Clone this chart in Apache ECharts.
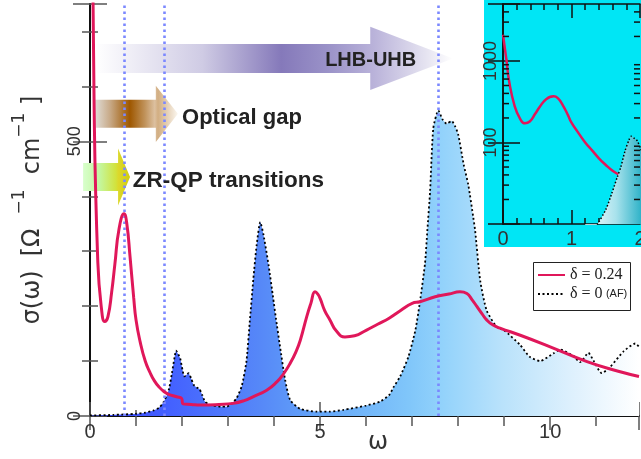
<!DOCTYPE html>
<html><head><meta charset="utf-8">
<script src="https://cdn.jsdelivr.net/npm/echarts@6/dist/echarts.min.js"></script>
<style>html,body{margin:0;padding:0;background:#fff}#c{width:641px;height:459px}</style>
</head><body><div id="c"></div>
<script>
// ---------------- data ----------------
const seriesNames = ['δ = 0.24', 'δ = 0 (AF)'];
// σ(ω) for δ = 0.24  [ω, σ]
const delta024 = [
 [0,2100],[0.05,1030],[0.09,560],[0.17,280],[0.25,195],[0.32,172],[0.39,181],[0.47,225],[0.54,276],[0.63,340],
 [0.74,368],[0.8,350],[0.87,290],[0.95,215],[1.0,175],[1.09,135],[1.2,100],[1.3,80],[1.4,64],[1.5,53],[1.6,45],
 [1.7,40],[1.88,35],[1.99,32],[2.02,22],[2.2,21],[2.39,20],[2.8,21],[3.11,23],[3.35,28],[3.54,35],[3.84,47],
 [4.06,62],[4.2,76],[4.35,96],[4.47,116],[4.57,138],[4.71,181],[4.8,205],[4.89,226],[4.95,222],[5.0,214],
 [5.1,192],[5.22,174],[5.35,155],[5.54,144],[5.75,146],[6.0,156],[6.25,167],[6.5,178],[6.75,192],[7.0,205],
 [7.17,208],[7.5,217],[7.8,222],[8.04,226],[8.19,223],[8.3,212],[8.41,199],[8.52,186],[8.62,175],[8.75,166],
 [8.91,160],[9.35,147],[10.0,126],[10.8,99],[11.5,81],[11.93,72]
];
// σ(ω) for δ = 0 (AF)  [ω, σ]
const deltaZeroAF = [
 [0,1],[0.5,2],[1.0,4],[1.2,6],[1.38,10],[1.5,15],[1.59,24],[1.67,38],[1.72,50],[1.78,78],[1.84,108],[1.87,119],
 [1.92,112],[1.96,105],[2.01,84],[2.05,72],[2.1,75],[2.14,78],[2.2,68],[2.25,57],[2.32,52],[2.38,49],[2.44,38],
 [2.5,26],[2.6,21],[2.68,19],[2.85,17],[2.97,17],[3.1,24],[3.19,33],[3.3,55],[3.4,100],[3.47,170],[3.55,250],
 [3.62,310],[3.7,353],[3.77,330],[3.88,275],[3.98,215],[4.04,178],[4.13,126],[4.24,66],[4.35,29],[4.57,13],
 [4.93,8],[5.2,8],[5.5,11],[6.0,19],[6.3,26],[6.5,38],[6.6,53],[6.74,72],[6.92,108],[7.07,156],[7.17,208],
 [7.28,278],[7.33,337],[7.39,409],[7.46,524],[7.57,556],[7.66,540],[7.75,532],[7.86,537],[7.93,528],[8.0,513],
 [8.12,458],[8.22,421],[8.33,361],[8.37,337],[8.48,246],[8.62,192],[8.84,162],[9.0,156],[9.35,129],[9.55,108],
 [9.78,100],[10.07,114],[10.22,121],[10.51,109],[10.65,98],[10.83,115],[10.94,101],[11.12,78],[11.3,89],
 [11.6,118],[11.85,132],[11.93,126]
];
// vertical guide lines (ω)
const transitionLines = [0.75, 1.62, 7.57];
// inset log-axis minor tick values and labelled ticks
const insetLogMinorTicks = [20,30,40,50,60,70,80,90,200,300,400,500,600,700,800,900,2000,3000,4000];
const insetLogLabels = [100, 1000];
const annotationTexts = ['LHB-UHB', 'Optical gap', 'ZR-QP transitions'];

// ---------------- styles ----------------
const RED = '#e0175a';
const AX = '#111';
const TK = '#555';
const LBL = {fontFamily:'Liberation Sans', color:'#333'};
const X_MAX = 11.93;
const LEGEND_BOX = {x:533, y:262, w:97, h:48};

const insetRed = delta024.filter(d => d[0] <= 2.1);
const insetAF = deltaZeroAF.filter(d => d[0] >= 1.2 && d[0] <= 2.1);

function baseAxis(extra) {
  return Object.assign({
    type:'value', splitLine:{show:false}, nameMoveOverlap:false,
    axisLine:{show:true, lineStyle:{color:AX, width:2}},
  }, extra);
}

const option = {
  animation:false,
  backgroundColor:'#fff',
  grid:[
    {left:90, top:4, width:549, height:412, outerBoundsMode:'none', containLabel:false},
    {left:503, top:4, width:137, height:220, outerBoundsMode:'none', containLabel:false}
  ],
  xAxis:[
    baseAxis({gridIndex:0, min:0, max:X_MAX, interval:5, position:'bottom', z:0,
      axisTick:{show:true, inside:true, length:14, lineStyle:{color:TK, width:1.5}},
      minorTick:{show:true, splitNumber:5, length:6, lineStyle:{color:TK, width:1.5}},
      axisLabel:Object.assign({showMaxLabel:false, fontSize:20, margin:6}, LBL),
      name:'ω', nameLocation:'middle', nameGap:15,
      nameTextStyle:{fontFamily:'DejaVu Sans', fontSize:24, color:'#333', padding:[0,0,0,27]}}),
    baseAxis({gridIndex:1, min:0, max:2, interval:1, position:'bottom', z:10,
      axisLine:{show:true, lineStyle:{color:AX, width:1.5}},
      axisTick:{show:true, inside:true, length:14, lineStyle:{color:AX, width:1.5}},
      minorTick:{show:true, splitNumber:5, length:6, lineStyle:{color:AX, width:1.5}},
      axisLabel:Object.assign({fontSize:20, margin:5}, LBL)}),
    baseAxis({gridIndex:0, min:0, max:X_MAX, interval:5, position:'top', z:0,
      axisTick:{show:true, inside:true, length:14, lineStyle:{color:TK, width:1.5}},
      minorTick:{show:true, splitNumber:5, length:10, lineStyle:{color:TK, width:1.5}},
      axisLabel:{show:false}}),
    baseAxis({gridIndex:1, min:0, max:2, interval:1, position:'top', z:10,
      axisLine:{show:true, lineStyle:{color:AX, width:1.5}},
      axisTick:{show:true, inside:true, length:14, lineStyle:{color:AX, width:1.5}},
      minorTick:{show:true, splitNumber:5, length:6, lineStyle:{color:AX, width:1.5}},
      axisLabel:{show:false}})
  ],
  yAxis:[
    baseAxis({gridIndex:0, min:0, max:750, interval:500, position:'left', z:0,
      axisTick:{show:true, inside:true, length:17, lineStyle:{color:TK, width:1.5}},
      minorTick:{show:true, splitNumber:5, length:8, lineStyle:{color:TK, width:1.5}},
      axisLabel:Object.assign({rotate:90, showMaxLabel:false, fontSize:18, margin:6}, LBL),
      name:'{m|σ(ω)}{g| }{m|[Ω}{g| }{s|−1}{m|  cm}{s|−1}{m| ]}',
      nameLocation:'middle', nameRotate:90, nameGap:35,
      nameTextStyle:{rich:{
        m:{fontFamily:'DejaVu Sans', fontSize:24, color:'#333', lineHeight:44, verticalAlign:'middle'},
        g:{fontFamily:'DejaVu Sans', fontSize:24, lineHeight:44, width:14},
        s:{fontFamily:'DejaVu Sans', fontSize:17, color:'#333', lineHeight:12, verticalAlign:'top'}
      }}}),
    baseAxis({gridIndex:1, type:'log', logBase:10, min:10, max:5000, position:'left', z:10,
      axisLine:{show:true, lineStyle:{color:AX, width:1.5}},
      axisTick:{show:true, inside:true, length:17, lineStyle:{color:AX, width:1.5}},
      axisLabel:Object.assign({rotate:90, fontSize:18, margin:3,
        formatter: v => insetLogLabels.indexOf(Math.round(v)) >= 0 ? String(Math.round(v)) : ''}, LBL)}),
    baseAxis({gridIndex:0, min:0, max:750, interval:500, position:'right', z:0,
      axisTick:{show:true, inside:true, length:17, lineStyle:{color:TK, width:1.5}},
      minorTick:{show:true, splitNumber:5, length:8, lineStyle:{color:TK, width:1.5}},
      axisLabel:{show:false}}),
    baseAxis({gridIndex:1, type:'log', logBase:10, min:10, max:5000, position:'right', z:10,
      axisLine:{show:true, lineStyle:{color:AX, width:1.5}},
      axisTick:{show:true, inside:true, length:15, lineStyle:{color:AX, width:1.5}},
      axisLabel:{show:false}})
  ],
  legend:{
    data:seriesNames, orient:'vertical', left:LEGEND_BOX.x, top:LEGEND_BOX.y,
    itemWidth:27, itemHeight:12, itemGap:3, padding:[5,3,4,4],
    backgroundColor:'transparent', borderWidth:0,
    selectedMode:false, z:20,
    itemStyle:{opacity:0},
    formatter: n => n === seriesNames[0] ? '{s|δ = 0.24}' : '{s|δ = 0} {a|(AF)}',
    textStyle:{rich:{
      s:{fontFamily:'Liberation Serif', fontSize:16, color:'#222'},
      a:{fontFamily:'Liberation Sans', fontSize:11, color:'#222'}
    }}
  },
  series:[
    {type:'line', name:'guides', xAxisIndex:0, yAxisIndex:0, data:[], z:3, silent:true,
     markLine:{symbol:'none', silent:true, label:{show:false},
       lineStyle:{color:'#7b88ff', width:2.6, type:[2.6,3.4]},
       data: transitionLines.map(v => ({xAxis:v}))}},
    {type:'line', name:seriesNames[1], xAxisIndex:0, yAxisIndex:0, data:deltaZeroAF, z:4,
     symbol:'none', smooth:0.2,
     lineStyle:{color:'#000', width:1.8, type:[2,2.5]},
     itemStyle:{color:'#000'},
     areaStyle:{origin:'start', opacity:1, color:{type:'linear', x:0, y:0, x2:1, y2:0, colorStops:[
       {offset:0, color:'#3a44ff'}, {offset:0.15, color:'#4462ff'}, {offset:0.31, color:'#5688f8'},
       {offset:0.42, color:'#64a6f8'}, {offset:0.58, color:'#80c6fa'}, {offset:0.64, color:'#92d2fb'},
       {offset:0.75, color:'#b9e2fb'}, {offset:0.875, color:'#ddf0fd'}, {offset:1, color:'#ffffff'}]}}},
    {type:'line', name:seriesNames[0], xAxisIndex:0, yAxisIndex:0, data:delta024, z:5,
     symbol:'none', smooth:0.5,
     lineStyle:{color:RED, width:3}, itemStyle:{color:RED}},
    {type:'line', name:'inset δ=0.24', xAxisIndex:1, yAxisIndex:1, data:insetRed, z:11,
     symbol:'none', smooth:0.5,
     lineStyle:{color:RED, width:2.5}},
    {type:'line', name:'inset AF', xAxisIndex:1, yAxisIndex:1, data:insetAF, z:12,
     symbol:'none', smooth:0.25,
     lineStyle:{color:'#000', width:1.5, type:[1.5,2]},
     areaStyle:{origin:'start', opacity:1, color:{type:'linear', x:0, y:0, x2:1, y2:0, colorStops:[
       {offset:0, color:'#ffffff'}, {offset:0.5, color:'#a8e2ec'}, {offset:1, color:'#14a8c0'}]}}},
    {type:'custom', name:'inset minor ticks', xAxisIndex:1, yAxisIndex:1, z:13, silent:true,
     data: insetLogMinorTicks.map(v => [0, v]), encode:{x:0, y:1},
     renderItem:(params, api) => {
       const y = api.coord([0, api.value(1)])[1];
       const cs = params.coordSys;
       const st = {stroke:AX, lineWidth:1.5};
       return {type:'group', children:[
         {type:'line', shape:{x1:cs.x, y1:y, x2:cs.x+6, y2:y}, style:st},
         {type:'line', shape:{x1:cs.x+cs.width, y1:y, x2:cs.x+cs.width-6, y2:y}, style:st}
       ]};
     }}
  ]
};

const chart = echarts.init(document.getElementById('c'));
chart.setOption(option);

// ---------------- annotations (placed in data coordinates) ----------------
const P = (x, y) => chart.convertToPixel({seriesIndex:2}, [x, y]);
const PI = (x, y) => chart.convertToPixel({seriesIndex:3}, [x, y]);
const arrowSpecs = [
  {x0:0.11, x1:6.09, x2:7.89, yc:651, body:26.4, head:57.4, text:annotationTexts[0], tx:5.11, ty:648, fs:20,
   stops:[[0,'#ffffff'],[0.3,'#cfcbe4'],[0.52,'#8579ba'],[0.65,'#9a92c8'],[0.78,'#bab3da'],[0.92,'#e4e2f0'],[1,'#ffffff']]},
  {x0:0.11, x1:1.43, x2:1.91, yc:550, body:25.5, head:51, text:annotationTexts[1], tx:2.0, ty:542, fs:22,
   stops:[[0,'#e0ddd8'],[0.18,'#c8aa88'],[0.42,'#9e5700'],[0.6,'#c0925a'],[0.72,'#dcc0a0'],[0.76,'#d2ae82'],[1,'#fbf7f0']]},
  {x0:-0.15, x1:0.61, x2:0.87, yc:435, body:25.5, head:52, text:annotationTexts[2], tx:0.93, ty:428, fs:22.5,
   stops:[[0,'#d8ffcc'],[0.35,'#c4f7a0'],[0.7,'#d2e23c'],[0.75,'#dcd82c'],[1,'#d0cc10']]}
];
const elements = [];
const iTL = PI(0, 5000), iBR = PI(2, 10);
elements.push({type:'rect', z:5, silent:true,
  shape:{x:iTL[0]-19, y:0, width:641-(iTL[0]-19), height:iBR[1]+23},
  style:{fill:'#00e6f5'}});
elements.push({type:'rect', z:19, silent:true,
  shape:{x:LEGEND_BOX.x+0.5, y:LEGEND_BOX.y+0.5, width:LEGEND_BOX.w, height:LEGEND_BOX.h},
  style:{fill:'#fff', stroke:'#222', lineWidth:1}});
arrowSpecs.forEach(a => {
  const pts = [[a.x0,a.yc+a.body],[a.x1,a.yc+a.body],[a.x1,a.yc+a.head],[a.x2,a.yc],
               [a.x1,a.yc-a.head],[a.x1,a.yc-a.body],[a.x0,a.yc-a.body]].map(p => P(p[0], p[1]));
  elements.push({type:'polygon', z:1, silent:true, shape:{points:pts},
    style:{fill:{type:'linear', x:0, y:0, x2:1, y2:0,
      colorStops:a.stops.map(s => ({offset:s[0], color:s[1]}))}}});
  const tp = P(a.tx, a.ty);
  elements.push({type:'text', z:100, silent:true, x:tp[0], y:tp[1],
    style:{text:a.text, fontFamily:'Liberation Sans', fontWeight:'bold', fontSize:a.fs,
      fill:'#222', align:'left', verticalAlign:'middle'}});
});
chart.setOption({graphic:{elements:elements}});
</script>
</body></html>
